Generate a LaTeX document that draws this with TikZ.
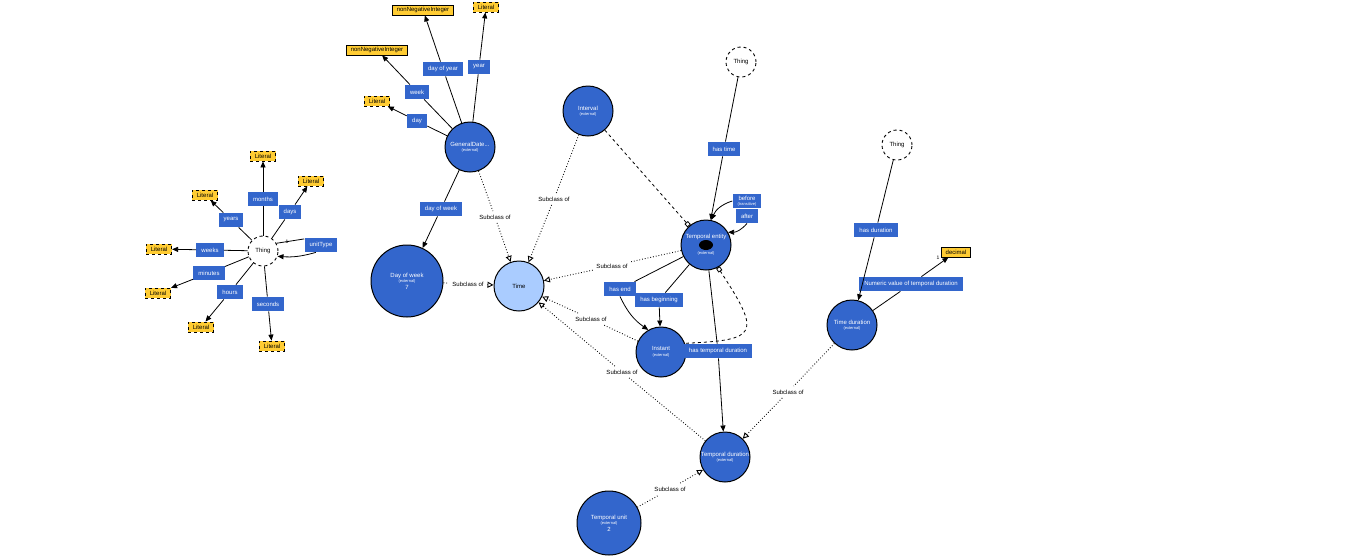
\documentclass[tikz,border=0pt]{standalone}
\usepackage{fontspec}
\setmainfont{Liberation Sans}
\usetikzlibrary{arrows.meta,positioning}
\definecolor{vblue}{HTML}{3366CC}
\definecolor{vlight}{HTML}{AACCFF}
\definecolor{vyellow}{HTML}{FFCC33}
\newcommand{\extnote}{\\[-1pt]{\fontsize{4}{4}\selectfont(external)}}

\begin{document}
\begin{tikzpicture}[
        x=1pt, y=-1pt,
        >={Triangle[length=6pt, width=5pt]}, % arrow head style
        line width=0.8pt,
        font=\fontsize{6}{6.5}\selectfont]

        \tikzstyle{every edge}=[
            draw = black,
            line width=0.8pt
        ]
        \tikzstyle{class}=[
            circle, draw = black, fill = vblue, text = white,
            line width=1pt, minimum size = 50pt, inner sep=0pt, align=center
        ]
        \tikzstyle{thing}=[
            circle, draw = black, dashed, fill = white,
            line width=0.9pt, minimum size = 30pt, inner sep=0pt
        ]
        \tikzstyle{prop}=[
            rectangle, fill = vblue, text = white,
            minimum height = 14pt, inner xsep=5pt, inner ysep=1pt, align=center
        ]
        \tikzstyle{lit}=[
            rectangle, draw = black, dashed, fill = vyellow,
            line width=0.8pt, minimum height = 10pt, inner xsep=4.5pt, inner ysep=1pt
        ]
        \tikzstyle{dtype}=[lit, solid]
        \tikzset{sub/.style={dotted, line width=0.9pt}}
        \tikzset{subarr/.style={sub, -{Triangle[open, length=6pt, width=6pt]}}}
        \tikzset{card/.style={font=\fontsize{5}{5}\selectfont, inner sep=0pt}}

        \fill[white] (0,0) rectangle (1366,558);
        \useasboundingbox (0,0) rectangle (1366,558);

        % units of time
        \node[thing] (thingA) at (263,251) {Thing};
        \node[lit] (litA) at (263,156) {Literal};
        \node[lit] (litB) at (311,181) {Literal};
        \node[lit] (litC) at (205,195) {Literal};
        \node[lit] (litD) at (159,249) {Literal};
        \node[lit] (litE) at (158,293) {Literal};
        \node[lit] (litF) at (201,327) {Literal};
        \node[lit] (litG) at (272,346) {Literal};
        \node[prop] (months) at (263,199) {months};
        \node[prop] (days) at (290,212) {days};
        \node[prop] (years) at (231,220) {years};
        \node[prop] (weeks) at (210,250) {weeks};
        \node[prop] (minutes) at (209,273) {minutes};
        \node[prop] (hours) at (230,292) {hours};
        \node[prop] (seconds) at (268,304) {seconds};
        \node[prop] (unittype) at (321,245) {unitType};
        \node[card] (cardA) at (287,242) {1};

        % general date
        \node[class] (gendate) at (470,147) {GeneralDate...\extnote};
        \node[dtype] (nniA) at (423,10) {nonNegativeInteger};
        \node[lit] (litH) at (486,7) {Literal};
        \node[dtype] (nniB) at (377,50) {nonNegativeInteger};
        \node[lit] (litI) at (377,101) {Literal};
        \node[prop] (dayofyear) at (443,69) {day of year};
        \node[prop] (year) at (479,67) {year};
        \node[prop] (week) at (417,92) {week};
        \node[prop] (day) at (417,121) {day};
        \node[prop] (dayofweek) at (441,209) {day of week};
        \node[class, minimum size = 72pt] (dow) at (407,281) {Day of week\extnote\\7};
        \node[class, fill = vlight, text = black] (time) at (519,286) {Time};

        % temporal entity
        \node[class] (interval) at (588,111) {Interval\extnote};
        \node[thing] (thingB) at (741,62) {Thing};
        \node[prop] (hastime) at (724,149) {has time};
        \node[class] (tempent) at (706,245)
            {Temporal entity\\[9.5pt]{\fontsize{4}{4}\selectfont(external)}};
        \fill (tempent) ellipse [x radius=7pt, y radius=5pt];
        \node[prop] (before) at (747,201) {before\\[-2pt]{\fontsize{4}{4}\selectfont(transitive)}};
        \node[prop] (after) at (747,216) {after};
        \node[prop] (hasend) at (620,289) {has end};
        \node[prop] (hasbegin) at (659,300) {has beginning};
        \node[class] (instant) at (661,352) {Instant\extnote};
        \node[prop] (hastempdur) at (718,351) {has temporal duration};

        % durations
        \node[thing] (thingC) at (897,145) {Thing};
        \node[prop] (hasdur) at (876,230) {has duration};
        \node[class] (timedur) at (852,325) {Time duration\extnote};
        \node[dtype] (decimal) at (956,252) {decimal};
        \node[prop] (numval) at (911,284) {Numeric value of temporal duration};
        \node[card] (cardB) at (938,258) {1};
        \node[class] (tempdur) at (725,457) {Temporal duration\extnote};
        \node[class, minimum size = 64pt] (tempunit) at (609,523) {Temporal unit\extnote\\2};

        % subclass labels
        \node (subA) at (495,217) {Subclass of};
        \node (subB) at (554,199) {Subclass of};
        \node (subC) at (468,284) {Subclass of};
        \node (subD) at (612,266) {Subclass of};
        \node (subE) at (591,319) {Subclass of};
        \node (subF) at (622,372) {Subclass of};
        \node (subG) at (788,392) {Subclass of};
        \node (subH) at (670,489) {Subclass of};

        \path
        (thingA) edge (months)   (months) edge[->] (litA)
        (thingA) edge (days)     (days) edge[->] (litB)
        (thingA) edge (years)    (years) edge[->] (litC)
        (thingA) edge (weeks)    (weeks) edge[->] (litD)
        (thingA) edge (minutes)  (minutes) edge[->] (litE)
        (thingA) edge (hours)    (hours) edge[->] (litF)
        (thingA) edge (seconds)  (seconds) edge[->] (litG)
        (thingA.30) edge (unittype.160)
        (unittype.-125) edge[->, bend left=10] (thingA.-20)
        (gendate) edge (day)       (day) edge[->] (litI)
        (gendate) edge (week)      (week) edge[->] (nniB)
        (gendate) edge (dayofyear) (dayofyear) edge[->] (nniA)
        (gendate) edge (year)      (year) edge[->] (litH)
        (gendate) edge (dayofweek) (dayofweek) edge[->] (dow)
        (thingB) edge (hastime)    (hastime) edge[->] (tempent)
        (before.west) edge[->, bend right=25] (tempent.78)
        (after.south) edge[->, bend left=25] (tempent.30)
        (tempent) edge (hasend)    (hasend.south) edge[->, bend right=15] (instant.120)
        (tempent) edge (hasbegin)  (hasbegin) edge[->] (instant)
        (tempent) edge (hastempdur) (hastempdur) edge[->] (tempdur)
        (thingC) edge (hasdur)     (hasdur) edge[->] (timedur)
        (timedur) edge (numval)    (numval) edge[->] (decimal)
        ;

        \path
        (gendate) edge[sub] (subA)   (subA) edge[subarr] (time)
        (interval) edge[sub] (subB)  (subB) edge[subarr] (time)
        (dow) edge[sub] (subC)       (subC) edge[subarr] (time)
        (tempent) edge[sub] (subD)   (subD) edge[subarr] (time)
        (instant) edge[sub] (subE)   (subE) edge[subarr] (time)
        (tempdur) edge[sub] (subF)   (subF) edge[subarr] (time)
        (timedur) edge[sub] (subG)   (subG) edge[subarr] (tempdur)
        (tempunit) edge[sub] (subH)  (subH) edge[subarr] (tempdur)
        ;

        \draw[dashed, -{Square[open, length=4.5pt, width=4.5pt]}] (interval) -- (tempent);
        \draw[dashed, {Square[open, length=4.5pt, width=4.5pt]}-]
            (tempent.-62) .. controls (762,335) and (758,340) .. (instant.20);
    \end{tikzpicture}
\end{document}
